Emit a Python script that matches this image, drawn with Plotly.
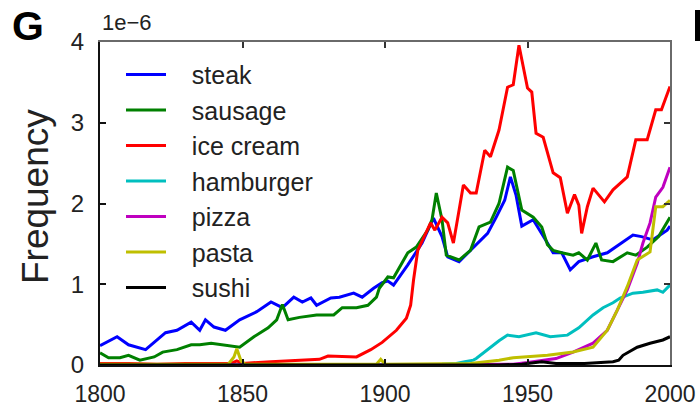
import plotly.graph_objects as go

# Word frequency in printed books, 1800-2000 (values in units of 1e-6)
steak_years = [1800, 1806, 1810, 1816, 1823, 1827, 1832, 1835, 1837, 1840, 1844, 1849, 1855,
               1860, 1864, 1868, 1871, 1874, 1876, 1881, 1884, 1889, 1892, 1896, 1899, 1901,
               1903, 1908, 1913, 1917, 1920, 1922, 1926, 1931, 1936, 1939, 1942, 1944, 1946,
               1948, 1952, 1957, 1959, 1962, 1965, 1968, 1973, 1978, 1982, 1987, 1990, 1994,
               1999, 2000]
steak_freq = [0.24, 0.35, 0.25, 0.19, 0.40, 0.43, 0.53, 0.43, 0.56, 0.47, 0.43, 0.56, 0.66,
              0.78, 0.71, 0.84, 0.78, 0.83, 0.74, 0.83, 0.84, 0.89, 0.84, 0.95, 1.02, 1.04,
              0.99, 1.24, 1.51, 1.82, 1.59, 1.34, 1.28, 1.45, 1.63, 1.83, 2.04, 2.33, 2.10,
              1.72, 1.80, 1.51, 1.39, 1.39, 1.18, 1.28, 1.34, 1.39, 1.49, 1.61, 1.59, 1.55,
              1.67, 1.72]

sausage_years = [1800, 1803, 1807, 1810, 1814, 1819, 1822, 1827, 1832, 1835, 1839, 1843, 1849,
                 1854, 1859, 1862, 1864, 1866, 1870, 1876, 1882, 1885, 1890, 1894, 1897, 1898,
                 1901, 1903, 1908, 1911, 1915, 1916.5, 1918, 1920, 1921.5, 1926, 1930, 1933,
                 1937, 1940, 1943, 1945, 1948, 1952, 1955, 1957, 1959, 1962, 1966, 1968, 1971,
                 1974, 1976, 1980, 1985, 1988, 1992, 1996, 2000]
sausage_freq = [0.15, 0.09, 0.09, 0.12, 0.06, 0.10, 0.16, 0.19, 0.25, 0.25, 0.27, 0.25, 0.22,
                0.35, 0.46, 0.56, 0.75, 0.56, 0.59, 0.62, 0.62, 0.71, 0.71, 0.74, 0.84, 0.95,
                1.09, 1.08, 1.39, 1.46, 1.67, 1.80, 2.13, 1.80, 1.36, 1.30, 1.42, 1.71,
                1.77, 2.00, 2.45, 2.41, 1.92, 1.83, 1.71, 1.49, 1.42, 1.39, 1.36, 1.39, 1.30,
                1.51, 1.30, 1.28, 1.39, 1.36, 1.46, 1.59, 1.83]

ice_cream_years = [1800, 1810, 1820, 1830, 1840, 1846, 1848, 1850, 1860, 1870, 1877, 1880,
                   1890, 1895, 1899, 1904, 1907.5, 1909, 1910, 1911.5, 1916, 1917.5, 1920,
                   1922, 1924, 1926, 1927.5, 1930, 1932, 1935, 1937, 1940, 1943, 1945, 1947,
                   1950, 1951.5, 1953, 1955.5, 1959, 1961.5, 1964, 1966.5, 1968, 1969, 1971,
                   1973, 1977, 1980, 1985, 1988, 1992, 1995, 1997, 2000]
ice_cream_freq = [0.02, 0.02, 0.01, 0.02, 0.02, 0.02, 0.05, 0.02, 0.04, 0.06, 0.07, 0.11,
                  0.10, 0.19, 0.28, 0.43, 0.58, 0.74, 1.05, 1.42, 1.76, 1.67, 1.83,
                  1.76, 1.51, 1.92, 2.23, 2.13, 2.13, 2.66, 2.58, 2.91, 3.44, 3.47, 3.96,
                  3.43, 3.38, 2.87, 2.82, 2.38, 2.32, 1.88, 2.11, 1.98, 1.63, 1.96,
                  2.19, 2.02, 2.17, 2.33, 2.79, 2.79, 3.16, 3.16, 3.45]

hamburger_years = [1800, 1850, 1900, 1920, 1925, 1928, 1931, 1932, 1937, 1940, 1943, 1947,
                   1953, 1958, 1964, 1968, 1973, 1976.5, 1980, 1982.5, 1987, 1990.5, 1995.5,
                   1997.5, 2000]
hamburger_freq = [0.0, 0.0, 0.0, 0.01, 0.02, 0.04, 0.06, 0.08, 0.22, 0.30, 0.37, 0.35,
                  0.40, 0.35, 0.37, 0.46, 0.62, 0.71, 0.77, 0.83, 0.89, 0.90, 0.93,
                  0.90, 0.99]

pizza_years = [1800, 1900, 1945, 1950, 1960, 1966, 1973, 1978, 1981.5, 1985, 1988.5, 1990.5,
               1993, 1995, 1997.5, 2000]
pizza_freq = [0.0, 0.0, 0.01, 0.03, 0.08, 0.16, 0.27, 0.43, 0.68, 0.93, 1.26, 1.51,
              1.76, 2.08, 2.20, 2.45]

pasta_years = [1800, 1845, 1847, 1848, 1849.5, 1851, 1897, 1898.5, 1900, 1930, 1940, 1945,
               1957, 1966, 1973, 1978, 1981.5, 1985, 1988.5, 1990.5, 1993, 1995, 1997.5, 2000]
pasta_freq = [0.01, 0.01, 0.10, 0.20, 0.05, 0.01, 0.01, 0.07, 0.01, 0.02, 0.06, 0.09,
              0.12, 0.16, 0.22, 0.43, 0.68, 0.97, 1.30, 1.34, 1.40, 1.96, 1.96, 2.04]

sushi_years = [1800, 1940, 1948, 1955, 1960, 1970, 1980, 1982, 1983.5, 1988.5, 1993, 1997.5, 2000]
sushi_freq = [0.0, 0.0, 0.01, 0.04, 0.02, 0.02, 0.04, 0.06, 0.12, 0.22, 0.27, 0.31, 0.35]

series = [
    ("steak", steak_years, steak_freq, "#0000ff"),
    ("sausage", sausage_years, sausage_freq, "#008000"),
    ("ice cream", ice_cream_years, ice_cream_freq, "#ff0000"),
    ("hamburger", hamburger_years, hamburger_freq, "#00bfbf"),
    ("pizza", pizza_years, pizza_freq, "#bf00bf"),
    ("pasta", pasta_years, pasta_freq, "#bfbf00"),
    ("sushi", sushi_years, sushi_freq, "#000000"),
]

x_ticks = [1800, 1850, 1900, 1950, 2000]
y_ticks = [0, 1, 2, 3, 4]

FONT = "Liberation Sans, Arial, Helvetica, sans-serif"
PLOT_W, PLOT_H = 570, 323  # plot area in pixels
LEGEND_PAD = "\u00a0\u00a0\u00a0"  # gap between legend line and label

fig = go.Figure()
for name, xs, ys, color in series:
    fig.add_trace(go.Scatter(
        x=xs, y=ys, mode="lines", name=LEGEND_PAD + name, legendgroup=name,
        line=dict(color=color, width=3),
    ))

# invisible trace that carries the mirrored top/right axes
fig.add_trace(go.Scatter(x=[1800, 2000], y=[0, 4], xaxis="x2", yaxis="y2",
                         mode="lines", line=dict(width=0), showlegend=False,
                         hoverinfo="skip"))

axis_common = dict(ticks="inside", ticklen=6, tickwidth=2, showgrid=False,
                   zeroline=False, automargin=False)

fig.update_layout(
    width=700, height=408,
    margin=dict(l=100, r=30, t=42, b=43),
    paper_bgcolor="white", plot_bgcolor="white",
    font=dict(family=FONT, color="#222222"),
    xaxis=dict(range=[1800, 2000], tickvals=x_ticks, showline=True, linecolor="#111111",
               linewidth=2, tickcolor="#111111", tickfont=dict(size=23),
               ticklabelstandoff=7, **axis_common),
    yaxis=dict(range=[0, 4], tickvals=y_ticks, showline=True, linecolor="#111111",
               linewidth=2, tickcolor="#111111", tickfont=dict(size=24),
               ticklabelstandoff=9, **axis_common),
    xaxis2=dict(range=[1800, 2000], tickvals=x_ticks, overlaying="x", side="top",
                showline=True, linecolor="#6a6a6a", linewidth=2, tickcolor="#333333",
                showticklabels=False, **axis_common),
    yaxis2=dict(range=[0, 4], tickvals=y_ticks, overlaying="y", side="right",
                showline=True, linecolor="#6a6a6a", linewidth=2, tickcolor="#333333",
                showticklabels=False, **axis_common),
    legend=dict(x=21 / PLOT_W, y=0.97, xanchor="left", yanchor="top",
                bgcolor="rgba(0,0,0,0)", borderwidth=0, itemwidth=40,
                font=dict(size=25, family=FONT, color="#222222"),
                tracegroupgap=0, traceorder="grouped"),
    # edge of the neighbouring panel's letter
    shapes=[dict(type="rect", xref="paper", yref="paper",
                 x0=1 + 25 / PLOT_W, x1=1 + 31 / PLOT_W,
                 y0=1 + 1 / PLOT_H, y1=1 + 32 / PLOT_H,
                 fillcolor="#000000", line=dict(width=0))],
    annotations=[
        dict(text="<b>G</b>", xref="paper", yref="paper",
             x=-72 / PLOT_W, y=1 + 16 / PLOT_H, showarrow=False, borderpad=0,
             font=dict(size=41, family=FONT, color="#000000"),
             xanchor="center", yanchor="middle"),
        dict(text="Frequency", xref="paper", yref="paper", x=-65 / PLOT_W, y=0.52,
             textangle=-90, showarrow=False, font=dict(size=37, family=FONT, color="#222222"),
             xanchor="center", yanchor="middle"),
        dict(text="1e\u22126", xref="paper", yref="paper", x=0.0, y=1.0, yshift=5,
             showarrow=False, font=dict(size=22, family=FONT, color="#222222"),
             xanchor="left", yanchor="bottom"),
    ],
)

fig.write_html("out.html")
